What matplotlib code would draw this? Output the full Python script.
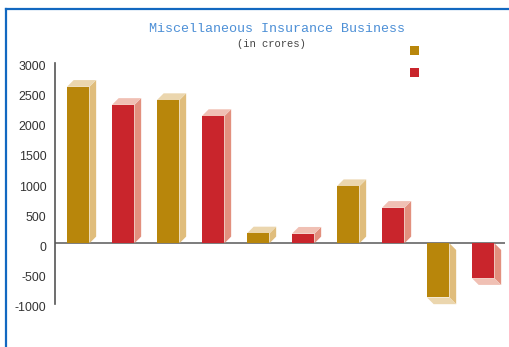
import matplotlib
matplotlib.use("Agg")
import matplotlib.pyplot as plt
import matplotlib.transforms as mtrans
from matplotlib.patches import Polygon, Rectangle
from matplotlib.lines import Line2D

# two series, drawn alternately (gold, red) per group
groups = [0, 1, 2, 3, 4]
gold_vals = [2600, 2380, 165, 950, -900]
red_vals = [2300, 2115, 160, 590, -580]
yticks = [-1000, -500, 0, 500, 1000, 1500, 2000, 2500, 3000]

GOLD = ("#B8860B", "#E0BD7C", "#EBD6AE")   # front, side, top
RED = ("#C9252C", "#E2907E", "#F0C0B4")

W, H = 509, 347
fig = plt.figure(figsize=(W / 100, H / 100), dpi=100)
ax = fig.add_axes([55.3 / W, 1 - 303.5 / H, (505 - 55.3) / W, (303.5 - 62.7) / H])
ax.set_xlim(-0.509, 9.484)
ax.set_ylim(-1000, 3000)

bw = 0.5
dx = 6.7 / 45            # depth in x units
dy = 6.7 / 0.0602        # depth in value units


def bar3d(x, v, cols):
    front, side, top = cols
    x0, x1 = x - bw / 2, x + bw / 2
    s = 1 if v >= 0 else -1
    ax.add_patch(Polygon([(x1, 0), (x1 + dx, s * dy), (x1 + dx, v + s * dy), (x1, v)],
                         closed=True, fc=side, ec="none", clip_on=False, zorder=3))
    ax.add_patch(Polygon([(x0, v), (x1, v), (x1 + dx, v + s * dy), (x0 + dx, v + s * dy)],
                         closed=True, fc=top, ec="none", clip_on=False, zorder=3))
    ax.add_patch(Rectangle((x0, 0), bw, v, fc=front, ec="none", clip_on=False, zorder=4))


for g in groups:
    bar3d(2 * g, gold_vals[g], GOLD)
    bar3d(2 * g + 1, red_vals[g], RED)

ax.axhline(0, color="#666666", lw=1.2, zorder=2)
for sp in ("top", "right", "bottom"):
    ax.spines[sp].set_visible(False)
ax.spines["left"].set_color("#555555")
ax.spines["left"].set_linewidth(1.2)
ax.set_xticks([])
ax.set_yticks(yticks)
ax.set_yticklabels([str(t) for t in yticks], fontfamily="Liberation Sans", fontsize=8.9,
                   color="#333333")
ax.tick_params(axis="y", length=0, pad=6.5)
for lab in ax.get_yticklabels():   # labels sit ~3px below their gridline value
    lab.set_transform(lab.get_transform() + mtrans.ScaledTranslation(0, -3 / 100, fig.dpi_scale_trans))

fig.text(276.7 / W, 1 - 29 / H, "Miscellaneous Insurance Business", ha="center", va="center",
         fontfamily="Liberation Mono", fontsize=9.6, color="#4C8FD6")
fig.text(271.3 / W, 1 - 44 / H, "(in crores)", ha="center", va="center",
         fontfamily="Liberation Mono", fontsize=7.6, color="#444444")

# legend swatches (no labels)
fig.patches.append(Rectangle((410 / W, 1 - 55 / H), 9 / W, 9 / H, fc=GOLD[0], ec="none",
                             transform=fig.transFigure))
fig.patches.append(Rectangle((410 / W, 1 - 77 / H), 9 / W, 9 / H, fc=RED[0], ec="none",
                             transform=fig.transFigure))

# blue frame (left and top edges)
fig.add_artist(Line2D([6 / W, 6 / W], [0, 1 - 8.5 / H], color="#1268C0", lw=1.6,
                      transform=fig.transFigure))
fig.add_artist(Line2D([6 / W, 1], [1 - 8.5 / H, 1 - 8.5 / H], color="#1268C0", lw=1.6,
                      transform=fig.transFigure))

fig.savefig("out.png", dpi=100)
